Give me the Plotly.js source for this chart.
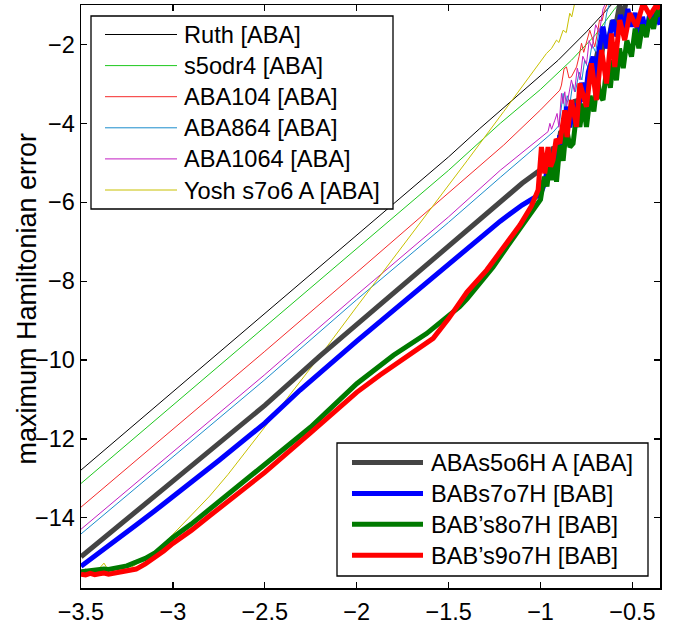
<!DOCTYPE html>
<html><head><meta charset="utf-8">
<script src="https://cdn.plot.ly/plotly-3.0.1.min.js"></script>
<style>html,body{margin:0;padding:0;background:#fff}#chart{width:678px;height:627px}</style>
</head><body><div id="chart"></div>
<script>
// ---------- data (log10 step size vs log10 max Hamiltonian error) ----------
const ruthX = [-3.5, -3.0, -2.5, -2.0, -1.5, -1.33, -1.112, -0.904, -0.75, -0.623, -0.58];
const ruthY = [-12.79, -10.81, -8.83, -6.85, -4.85, -4.13, -3.24, -2.40, -1.68, -1.03, -0.82];

const s5X = [-3.5, -3.0, -2.5, -2.0, -1.5, -1.219, -1.0, -0.832, -0.7, -0.6, -0.55];
const s5Y = [-13.13, -11.15, -9.16, -7.18, -5.19, -4.00, -3.14, -2.40, -1.75, -1.12, -0.85];

const aba104X = [-3.5, -3.0, -2.5, -2.0, -1.5, -1.2, -1.0, -0.895, -0.886, -0.872, -0.859, -0.845, -0.832, -0.818, -0.804, -0.79, -0.777, -0.765, -0.75, -0.732, -0.718, -0.705, -0.69, -0.679, -0.665, -0.652, -0.63];
const aba104Y = [-13.73, -11.76, -9.78, -7.78, -5.76, -4.55, -3.66, -3.16, -3.03, -2.62, -2.57, -2.85, -2.82, -2.70, -2.57, -2.30, -1.97, -2.20, -1.95, -1.64, -1.85, -2.06, -1.70, -1.38, -1.40, -1.13, -0.90];

const aba864X = [-3.5, -3.0, -2.5, -2.0, -1.5, -1.219, -1.0, -0.931, -0.899, -0.877, -0.868, -0.855, -0.84, -0.825, -0.81, -0.79, -0.775, -0.76, -0.74, -0.72, -0.70, -0.68, -0.66, -0.64, -0.62];
const aba864Y = [-14.41, -12.45, -10.50, -8.47, -6.51, -5.37, -4.50, -4.22, -4.05, -3.24, -3.70, -3.30, -3.50, -3.00, -3.20, -2.70, -2.90, -2.40, -2.60, -2.00, -2.20, -1.60, -1.80, -1.20, -0.90];

const aba1064X = [-3.5, -3.0, -2.5, -2.0, -1.5, -1.219, -1.0, -0.959, -0.949, -0.94, -0.922, -0.91, -0.90, -0.886, -0.877, -0.868, -0.859, -0.841, -0.832, -0.815, -0.80, -0.785, -0.77, -0.75, -0.735, -0.72, -0.70, -0.68, -0.66, -0.64];
const aba1064Y = [-14.29, -12.33, -10.37, -8.35, -6.37, -5.19, -4.36, -4.21, -4.00, -4.15, -3.92, -3.75, -4.10, -3.24, -3.50, -3.20, -3.60, -3.07, -2.90, -3.20, -2.60, -2.90, -2.30, -2.50, -1.90, -2.10, -1.50, -1.70, -1.10, -0.90];

const yoshX = [-3.5, -3.475, -3.45, -3.425, -3.4, -3.375, -3.35, -3.325, -3.3, -3.275, -3.25, -3.225, -3.2, -3.15, -3.1, -3.05, -3.0, -2.9, -2.8, -2.7, -2.6, -2.5, -2.4, -2.2, -2.0, -1.8, -1.6, -1.4, -1.2, -1.0, -0.968, -0.94, -0.913, -0.9, -0.877, -0.86, -0.841, -0.83, -0.814, -0.8];
const yoshY = [-15.36, -15.30, -15.38, -15.33, -15.28, -15.15, -15.34, -15.30, -15.27, -15.32, -15.22, -15.25, -15.18, -15.05, -14.88, -14.68, -14.42, -13.93, -13.45, -12.90, -12.30, -11.70, -11.10, -9.90, -8.65, -7.42, -6.20, -4.95, -3.70, -2.45, -2.23, -2.10, -1.89, -1.95, -1.64, -1.70, -1.21, -1.30, -0.95, -0.80];

const grayX = [-3.5, -3.25, -3.0, -2.75, -2.5, -2.198, -2.0, -1.75, -1.5, -1.35, -1.219, -1.1, -1.0, -0.97, -0.95, -0.93, -0.91, -0.89, -0.87, -0.85, -0.83, -0.81, -0.79, -0.77, -0.75, -0.73, -0.71, -0.69, -0.67, -0.65, -0.63, -0.61, -0.59, -0.57, -0.55, -0.53];
const grayY = [-14.99, -14.03, -13.07, -12.11, -11.15, -9.89, -9.10, -8.12, -7.13, -6.53, -5.98, -5.52, -5.18, -4.90, -5.00, -4.60, -4.70, -4.20, -4.30, -3.80, -3.90, -3.40, -3.50, -3.00, -3.10, -2.60, -2.70, -2.20, -2.30, -1.80, -1.90, -1.40, -1.50, -1.00, -1.30, -0.80];

const blueX = [-3.5, -3.4, -3.3, -3.2, -3.1, -3.0, -2.75, -2.5, -2.308, -2.0, -1.75, -1.5, -1.35, -1.219, -1.1, -1.0, -0.98, -0.96, -0.945, -0.93, -0.913, -0.895, -0.877, -0.859, -0.84, -0.82, -0.80, -0.777, -0.76, -0.74, -0.714, -0.695, -0.68, -0.66, -0.64, -0.62, -0.605, -0.585, -0.565, -0.545, -0.525, -0.505, -0.485, -0.465, -0.445, -0.425, -0.405, -0.388, -0.37, -0.35];
const blueY = [-15.23, -14.89, -14.55, -14.18, -13.83, -13.47, -12.55, -11.60, -10.76, -9.52, -8.55, -7.60, -7.02, -6.48, -6.07, -5.79, -5.55, -5.10, -5.40, -4.85, -5.05, -4.30, -4.60, -3.58, -4.10, -3.50, -3.90, -2.97, -3.45, -2.70, -2.31, -2.90, -2.10, -1.55, -2.10, -1.70, -1.38, -1.80, -1.25, -1.60, -1.10, -1.55, -1.20, -1.89, -1.30, -1.70, -1.20, -1.38, -1.20, -1.50];

const green8X = [-3.5, -3.475, -3.45, -3.425, -3.4, -3.375, -3.35, -3.325, -3.3, -3.275, -3.25, -3.2, -3.15, -3.1, -3.05, -3.0, -2.9, -2.8, -2.7, -2.6, -2.5, -2.25, -2.0, -1.873, -1.8, -1.62, -1.5, -1.44, -1.4, -1.3, -1.258, -1.2, -1.13, -1.1, -1.0, -0.98, -0.965, -0.95, -0.94, -0.925, -0.913, -0.895, -0.877, -0.86, -0.84, -0.823, -0.805, -0.786, -0.768, -0.75, -0.73, -0.71, -0.69, -0.675, -0.66, -0.64, -0.62, -0.605, -0.587, -0.57, -0.55, -0.53, -0.505, -0.485, -0.465, -0.445, -0.424, -0.405, -0.385, -0.365, -0.35];
const green8Y = [-15.37, -15.35, -15.36, -15.33, -15.32, -15.30, -15.31, -15.28, -15.26, -15.25, -15.22, -15.12, -15.03, -14.90, -14.70, -14.50, -14.16, -13.78, -13.42, -13.05, -12.68, -11.70, -10.60, -10.13, -9.88, -9.33, -8.90, -8.65, -8.45, -7.90, -7.64, -7.25, -6.79, -6.60, -5.93, -5.35, -5.60, -5.00, -5.44, -4.90, -5.48, -4.55, -4.95, -4.10, -4.60, -4.51, -3.80, -4.09, -3.50, -4.09, -3.30, -3.70, -2.90, -3.30, -3.41, -2.60, -3.10, -2.40, -2.91, -2.10, -2.60, -1.90, -2.31, -1.60, -2.10, -1.50, -1.81, -1.30, -1.60, -1.10, -1.30];

const red9X = [-3.5, -3.475, -3.45, -3.425, -3.4, -3.375, -3.35, -3.325, -3.3, -3.275, -3.25, -3.2, -3.15, -3.1, -3.05, -3.0, -2.9, -2.8, -2.75, -2.7, -2.6, -2.5, -2.25, -2.0, -1.873, -1.8, -1.7, -1.584, -1.5, -1.457, -1.4, -1.293, -1.2, -1.112, -1.05, -1.013, -0.995, -0.977, -0.959, -0.945, -0.932, -0.915, -0.895, -0.868, -0.856, -0.832, -0.804, -0.786, -0.75, -0.723, -0.696, -0.668, -0.641, -0.614, -0.596, -0.569, -0.542, -0.514, -0.478, -0.442, -0.405, -0.369, -0.35];
const red9Y = [-15.43, -15.45, -15.41, -15.44, -15.42, -15.40, -15.43, -15.41, -15.39, -15.37, -15.33, -15.30, -15.17, -15.02, -14.84, -14.65, -14.32, -13.95, -13.76, -13.58, -13.20, -12.85, -11.84, -10.82, -10.38, -10.15, -9.81, -9.45, -8.95, -8.65, -8.28, -7.72, -7.14, -6.58, -6.10, -5.69, -4.60, -5.27, -4.60, -5.10, -4.93, -4.40, -4.51, -3.67, -4.35, -3.41, -4.09, -2.99, -3.58, -2.48, -3.41, -2.14, -2.99, -1.72, -2.57, -1.38, -1.89, -1.21, -1.55, -0.96, -1.26, -1.00, -1.10];

const seriesNames = ['Ruth [ABA]', 's5odr4 [ABA]', 'ABA104 [ABA]', 'ABA864 [ABA]', 'ABA1064 [ABA]', 'Yosh s7o6 A [ABA]',
                     'ABAs5o6H A [ABA]', 'BABs7o7H [BAB]', 'BAB\u2019s8o7H [BAB]', 'BAB\u2019s9o7H [BAB]'];
const seriesX = [ruthX, s5X, aba104X, aba864X, aba1064X, yoshX, grayX, blueX, green8X, red9X];
const seriesY = [ruthY, s5Y, aba104Y, aba864Y, aba1064Y, yoshY, grayY, blueY, green8Y, red9Y];
const seriesColors = ['#000000', '#1ec81e', '#f52a2a', '#1a8ccc', '#c21ec2', '#c8c000',
                      '#444444', '#0000ff', '#007a00', '#ff0000'];
const seriesWidths = [1, 1, 1, 1, 1, 1, 5, 5, 5, 5];

const xTicks = [-3.5, -3, -2.5, -2, -1.5, -1, -0.5];
const yTicks = [-14, -12, -10, -8, -6, -4, -2];

// ---------- geometry ----------
const W = 678, H = 627;
const M = {l: 81, r: 18, t: 5, b: 39};
const PW = W - M.l - M.r, PH = H - M.t - M.b;
const px = v => (v - M.l) / PW;          // pixel x -> paper x
const py = v => (H - M.b - v) / PH;      // pixel y -> paper y

const FONT = 'Liberation Sans, Arial, Helvetica, sans-serif';

const traces = seriesNames.map((n, i) => ({
  type: 'scatter', mode: 'lines', name: n,
  x: seriesX[i], y: seriesY[i],
  line: {color: seriesColors[i], width: seriesWidths[i]},
  showlegend: false, hoverinfo: 'skip'
}));

// ---------- legends (drawn as boxes) ----------
const shapes = [], annotations = [];
function legendBox(idx, box, row0, rowStep, lx0, lx1, tx) {
  shapes.push({type: 'rect', xref: 'paper', yref: 'paper',
    x0: px(box[0]), x1: px(box[2]), y0: py(box[3]), y1: py(box[1]),
    line: {color: '#000', width: 1.3}, fillcolor: '#fff', layer: 'above'});
  idx.forEach((s, k) => {
    const yy = row0 + rowStep * k;
    shapes.push({type: 'line', xref: 'paper', yref: 'paper',
      x0: px(lx0), x1: px(lx1), y0: py(yy), y1: py(yy),
      line: {color: seriesColors[s], width: seriesWidths[s]}, layer: 'above'});
    annotations.push({xref: 'paper', yref: 'paper', x: px(tx), y: py(yy + 0.5),
      xanchor: 'left', yanchor: 'middle', showarrow: false, text: seriesNames[s],
      font: {family: FONT, size: 23.6, color: '#000'}});
  });
}
legendBox([0, 1, 2, 3, 4, 5], [91, 16, 393, 209], 34.5, 31.1, 105, 177, 182);
legendBox([6, 7, 8, 9], [337, 443, 648, 576], 462.5, 30.9, 352, 423, 429);

annotations.push({xref: 'paper', yref: 'paper', x: 0, y: 0.5, xshift: -55, yshift: -2,
  xanchor: 'center', yanchor: 'middle', textangle: -90, showarrow: false,
  text: 'maximum Hamiltonian error', font: {family: FONT, size: 27, color: '#000'}});

const axisCommon = {
  showline: true, linecolor: '#000', linewidth: 1.5, mirror: 'ticks',
  ticks: 'inside', ticklen: 6, tickwidth: 1.2, tickcolor: '#000',
  showgrid: false, zeroline: false,
  tickfont: {family: FONT, size: 23.5, color: '#000'}
};

const layout = {
  width: W, height: H, margin: M,
  paper_bgcolor: '#fff', plot_bgcolor: '#fff',
  showlegend: false,
  xaxis: Object.assign({}, axisCommon, {range: [-3.5, -0.35], tickmode: 'array', tickvals: xTicks,
    ticklabelstandoff: 2,
    ticktext: xTicks.map(v => (v < 0 ? '\u2212' : '') + Math.abs(v))}),
  yaxis: Object.assign({}, axisCommon, {range: [-15.78, -1.0], tickmode: 'array', tickvals: yTicks,
    ticktext: yTicks.map(v => (v < 0 ? '\u2212' : '') + Math.abs(v))}),
  shapes: shapes, annotations: annotations
};

Plotly.newPlot('chart', traces, layout, {staticPlot: true, displayModeBar: false});
</script></body></html>
